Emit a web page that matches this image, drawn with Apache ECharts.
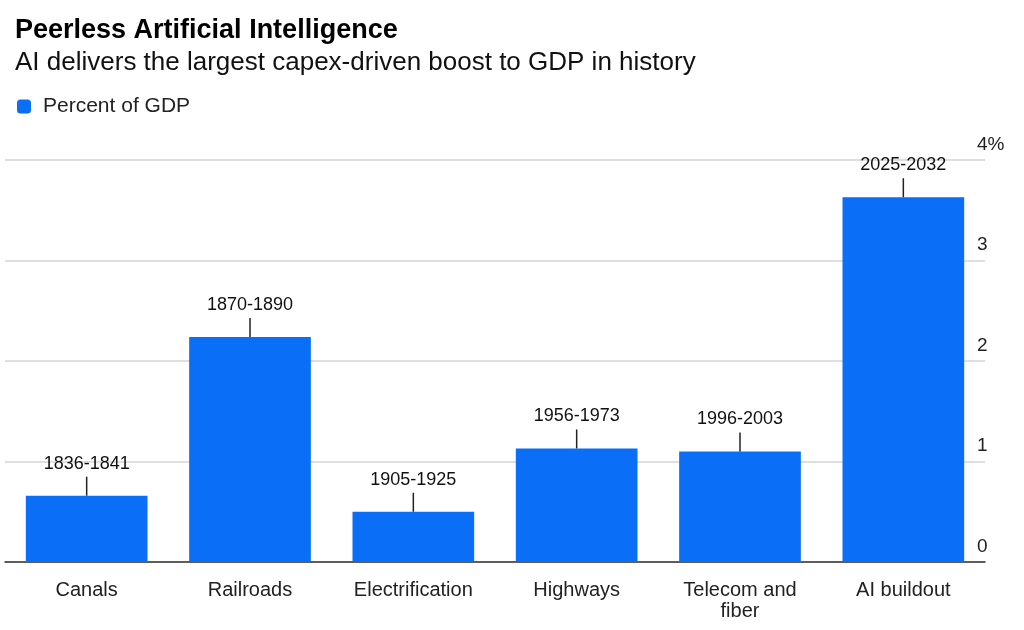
<!DOCTYPE html>
<html>
<head>
<meta charset="utf-8">
<script src="https://cdn.jsdelivr.net/npm/echarts@6/dist/echarts.min.js"></script>
<style>
html,body{margin:0;padding:0;background:#fff;}
#chart{width:1024px;height:630px;}
</style>
</head>
<body>
<div id="chart"></div>
<script>
const categories = ['Canals', 'Railroads', 'Electrification', 'Highways', 'Telecom and\nfiber', 'AI buildout'];
const periods = ['1836-1841', '1870-1890', '1905-1925', '1956-1973', '1996-2003', '2025-2032'];
const values = [0.66, 2.24, 0.50, 1.13, 1.10, 3.63];
const yTicks = [0, 1, 2, 3, 4];

const FONT = '"Liberation Sans", Arial, sans-serif';
const BLUE = '#0a6ef7';
const chart = echarts.init(document.getElementById('chart'));

chart.setOption({
  backgroundColor: '#fff',
  animation: false,
  title: {
    text: 'Peerless Artificial Intelligence',
    subtext: 'AI delivers the largest capex-driven boost to GDP in history',
    left: 10,
    top: 12,
    itemGap: 6,
    textStyle: { fontFamily: FONT, fontSize: 27, fontWeight: 'bold', color: '#000' },
    subtextStyle: { fontFamily: FONT, fontSize: 26, color: '#111' }
  },
  legend: {
    left: 12,
    top: 91,
    icon: 'roundRect',
    itemWidth: 14,
    itemHeight: 14,
    itemGap: 10,
    textStyle: { fontFamily: FONT, fontSize: 21, color: '#222', padding: [0, 0, 0, 7] },
    data: ['Percent of GDP']
  },
  grid: { left: 5, right: 39, top: 160, bottom: 68 },
  xAxis: {
    type: 'category',
    data: categories,
    axisLine: { lineStyle: { color: '#333', width: 1.5 } },
    axisTick: { alignWithLabel: true, length: 10, lineStyle: { color: '#333', width: 1.5 } },
    axisLabel: { margin: 18, fontFamily: FONT, fontSize: 20, color: '#222', lineHeight: 21, interval: 0 }
  },
  yAxis: {
    type: 'value',
    position: 'right',
    min: 0,
    max: 4,
    interval: 1,
    axisLine: { show: false },
    axisTick: { show: false },
    splitLine: { lineStyle: { color: '#d4d4d4', width: 1.5 } },
    axisLabel: {
      margin: -8,
      align: 'left',
      verticalAlign: 'bottom',
      padding: [0, 0, 6, 0],
      fontFamily: FONT,
      fontSize: 19,
      color: '#222',
      formatter: v => yTicks.includes(v) ? (v === 4 ? v + '%' : String(v)) : ''
    }
  },
  series: [
    {
      name: 'Percent of GDP',
      type: 'bar',
      data: values,
      barWidth: '74.5%',
      itemStyle: { color: BLUE }
    },
    {
      type: 'custom',
      data: values.map((v, i) => [i, v]),
      z: 5,
      renderItem: function (params, api) {
        const p = api.coord([api.value(0), api.value(1)]);
        return {
          type: 'group',
          children: [
            {
              type: 'line',
              shape: { x1: p[0], y1: p[1], x2: p[0], y2: p[1] - 19 },
              style: { stroke: '#222', lineWidth: 1.5 }
            },
            {
              type: 'text',
              style: {
                x: p[0], y: p[1] - 23,
                text: periods[params.dataIndex],
                align: 'center', verticalAlign: 'bottom',
                fontFamily: FONT, fontSize: 18, fill: '#111'
              }
            }
          ]
        };
      }
    }
  ]
});
</script>
</body>
</html>
